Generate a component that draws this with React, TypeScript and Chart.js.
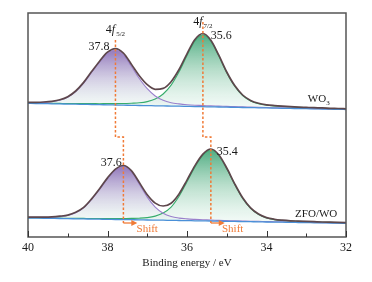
import React, { useEffect, useRef } from "react";
import { Chart, registerables } from "chart.js";
Chart.register(...registerables);

// Binding energy grid (eV)
const energies = [40.0, 39.8, 39.6, 39.4, 39.2, 39.0, 38.8, 38.6, 38.4, 38.2, 38.0, 37.8, 37.6, 37.4, 37.2, 37.0, 36.8, 36.6, 36.4, 36.2, 36.0, 35.8, 35.6, 35.4, 35.2, 35.0, 34.8, 34.6, 34.4, 34.2, 34.0, 33.8, 33.6, 33.4, 33.2, 33.0, 32.8, 32.6, 32.4, 32.2, 32.0];

// WO3 (upper spectrum, offset a.u.)
const wo3Background = [133.7, 133.5, 133.4, 133.2, 133.1, 132.9, 132.8, 132.6, 132.5, 132.3, 132.2, 132.0, 131.8, 131.7, 131.5, 131.4, 131.2, 131.1, 130.9, 130.8, 130.6, 130.4, 130.3, 130.1, 130.0, 129.8, 129.7, 129.5, 129.4, 129.2, 129.1, 128.9, 128.7, 128.6, 128.4, 128.3, 128.1, 128.0, 127.8, 127.7, 127.5];
const wo3F52 = [0.6, 0.8, 1.2, 2.0, 3.6, 6.8, 12.5, 21.2, 32.0, 42.5, 51.4, 55.0, 50.4, 39.0, 27.0, 16.9, 9.8, 5.6, 3.4, 2.3, 1.7, 1.4, 1.2, 1.0, 0.9, 0.8, 0.7, 0.6, 0.5, 0.5, 0.4, 0.4, 0.4, 0.3, 0.3, 0.3, 0.3, 0.3, 0.2, 0.2, 0.2];
const wo3F72 = [0.3, 0.4, 0.4, 0.5, 0.5, 0.6, 0.7, 0.8, 0.9, 1.0, 1.2, 1.4, 1.7, 2.1, 2.7, 4.0, 6.7, 11.9, 21.0, 34.4, 50.9, 65.7, 72.0, 65.7, 50.9, 34.4, 21.0, 11.9, 6.7, 4.0, 2.7, 2.1, 1.7, 1.4, 1.2, 1.0, 0.9, 0.8, 0.7, 0.6, 0.5];

// ZFO/WO (lower spectrum)
const zfoBackground = [19.0, 18.9, 18.7, 18.6, 18.5, 18.3, 18.2, 18.1, 17.9, 17.8, 17.7, 17.5, 17.4, 17.3, 17.2, 17.0, 16.9, 16.8, 16.6, 16.5, 16.4, 16.2, 16.1, 16.0, 15.8, 15.7, 15.6, 15.4, 15.3, 15.2, 15.0, 14.9, 14.8, 14.6, 14.5, 14.4, 14.2, 14.1, 14.0, 13.9, 13.7];
const zfoF52 = [0.6, 0.7, 0.9, 1.2, 1.9, 3.2, 6.0, 11.0, 19.6, 29.7, 40.6, 49.5, 53.0, 47.7, 35.7, 22.9, 13.0, 7.0, 3.9, 2.4, 1.7, 1.4, 1.1, 1.0, 0.8, 0.7, 0.6, 0.6, 0.5, 0.5, 0.4, 0.4, 0.4, 0.3, 0.3, 0.3, 0.3, 0.2, 0.2, 0.2, 0.2];
const zfoF72 = [0.2, 0.3, 0.3, 0.3, 0.4, 0.4, 0.5, 0.5, 0.6, 0.7, 0.8, 0.9, 1.1, 1.3, 1.6, 2.4, 4.0, 7.2, 13.3, 24.2, 38.8, 53.8, 65.7, 71.0, 65.7, 52.6, 37.0, 23.2, 13.3, 7.2, 4.0, 2.4, 1.6, 1.3, 1.1, 0.9, 0.8, 0.7, 0.6, 0.5, 0.5];

// Peak positions (eV)
const peaksWO3 = [37.8, 35.6];
const peaksZFO = [37.6, 35.4];
const peakLabelsWO3 = ["37.8", "35.6"];
const peakLabelsZFO = ["37.6", "35.4"];

// Axis
const xTicks = [40, 38, 36, 34, 32];
const xMinorTicks = [39, 37, 35, 33];
const xTitle = "Binding energy / eV";

const FONT = "'Liberation Serif', 'Times New Roman', serif";

export default function App() {
  const ref = useRef<HTMLCanvasElement>(null);

  useEffect(() => {
    const canvas = ref.current;
    if (!canvas) return;

    const pts = (vals: number[]) => energies.map((e, i) => ({ x: e, y: vals[i] }));
    const sum = (a: number[], b: number[]) => energies.map((e, i) => ({ x: e, y: a[i] + b[i] }));
    const env = (bg: number[], p: number[], g: number[]) => energies.map((e, i) => ({ x: e, y: bg[i] + p[i] + g[i] }));
    const argmax = (a: number[]) => a.indexOf(Math.max(...a));

    const gradFill = (bg: number[], comp: number[], stops: string[]) => (ctx: any) => {
      const chart = ctx.chart;
      const ys = chart.scales && chart.scales.y;
      if (!chart.chartArea || !ys) return stops[0];
      const k = argmax(comp);
      const yTop = ys.getPixelForValue(bg[k] + comp[k]);
      const yBot = ys.getPixelForValue(bg[k]);
      const g = chart.ctx.createLinearGradient(0, yTop, 0, yBot);
      g.addColorStop(0, stops[0]);
      g.addColorStop(0.5, stops[1]);
      g.addColorStop(1, stops[2]);
      return g;
    };
    const purpleStops = ["rgba(138,110,182,0.92)", "rgba(192,184,216,0.72)", "rgba(226,242,236,0.45)"];
    const greenStops = ["rgba(66,166,120,0.92)", "rgba(158,210,184,0.72)", "rgba(226,244,236,0.45)"];

    const curve = { pointRadius: 0, cubicInterpolationMode: "monotone" as const, tension: 0 };
    const ENV = "#5e474c";
    const PUR = "#9a80cc";
    const GRN = "#36ac6c";
    const BLU = "#4a90d8";
    const ORG = "#f07a36";

    // step shift guides (eV / a.u.)
    const guideTopY = [197, 215];
    const guideStepY = 100;
    const guideBottomY = 14;
    const arrowLen = 0.3;

    const datasets: any[] = [
      { label: "guide1", data: [{ x: peaksWO3[0], y: guideTopY[0] }, { x: peaksWO3[0], y: guideStepY }, { x: peaksZFO[0], y: guideStepY }, { x: peaksZFO[0], y: guideBottomY }], borderColor: ORG, borderWidth: 1.5, borderDash: [2.5, 2], pointRadius: 0, fill: false, order: 0 },
      { label: "guide2", data: [{ x: peaksWO3[1], y: guideTopY[1] }, { x: peaksWO3[1], y: guideStepY }, { x: peaksZFO[1], y: guideStepY }, { x: peaksZFO[1], y: guideBottomY }], borderColor: ORG, borderWidth: 1.5, borderDash: [2.5, 2], pointRadius: 0, fill: false, order: 0 },
      { label: "arrow1", data: [{ x: peaksZFO[0], y: guideBottomY }, { x: peaksZFO[0] - arrowLen, y: guideBottomY }], borderColor: ORG, borderWidth: 1.3, pointRadius: 0, fill: false, order: 0 },
      { label: "arrow2", data: [{ x: peaksZFO[1], y: guideBottomY }, { x: peaksZFO[1] - arrowLen, y: guideBottomY }], borderColor: ORG, borderWidth: 1.3, pointRadius: 0, fill: false, order: 0 },
      { label: "envWO3", data: env(wo3Background, wo3F52, wo3F72), borderColor: ENV, borderWidth: 1.7, fill: false, order: 1, ...curve },
      { label: "envZFO", data: env(zfoBackground, zfoF52, zfoF72), borderColor: ENV, borderWidth: 1.7, fill: false, order: 1, ...curve },
      { label: "bgWO3", data: pts(wo3Background), borderColor: BLU, borderWidth: 1.3, fill: false, order: 2, ...curve },
      { label: "bgZFO", data: pts(zfoBackground), borderColor: BLU, borderWidth: 1.3, fill: false, order: 2, ...curve },
      { label: "w52", data: sum(wo3Background, wo3F52), borderColor: PUR, borderWidth: 1.1, fill: 6, backgroundColor: gradFill(wo3Background, wo3F52, purpleStops), order: 3, ...curve },
      { label: "w72", data: sum(wo3Background, wo3F72), borderColor: GRN, borderWidth: 1.1, fill: 6, backgroundColor: gradFill(wo3Background, wo3F72, greenStops), order: 3, ...curve },
      { label: "z52", data: sum(zfoBackground, zfoF52), borderColor: PUR, borderWidth: 1.1, fill: 7, backgroundColor: gradFill(zfoBackground, zfoF52, purpleStops), order: 3, ...curve },
      { label: "z72", data: sum(zfoBackground, zfoF72), borderColor: GRN, borderWidth: 1.1, fill: 7, backgroundColor: gradFill(zfoBackground, zfoF72, greenStops), order: 3, ...curve },
    ];

    const decor = {
      id: "decor",
      afterDatasetsDraw(chart: any) {
        const { ctx, chartArea: a, scales } = chart;
        const xs = scales.x, ys = scales.y;
        const X = (v: number) => xs.getPixelForValue(v);
        const Y = (v: number) => ys.getPixelForValue(v);
        ctx.save();
        // arrow heads
        ctx.fillStyle = ORG;
        [peaksZFO[0], peaksZFO[1]].forEach((p) => {
          const tx = X(p - arrowLen) + 2, ty = Y(guideBottomY);
          ctx.beginPath();
          ctx.moveTo(tx, ty);
          ctx.lineTo(tx - 6, ty - 3);
          ctx.lineTo(tx - 6, ty + 3);
          ctx.closePath();
          ctx.fill();
        });
        // frame
        ctx.strokeStyle = "#555";
        ctx.lineWidth = 1.5;
        ctx.strokeRect(a.left, a.top, a.right - a.left, a.bottom - a.top);
        // inward ticks
        ctx.strokeStyle = "#333";
        ctx.lineWidth = 1;
        xTicks.forEach((t) => { const x = Math.round(X(t)) + 0.5; ctx.beginPath(); ctx.moveTo(x, a.bottom); ctx.lineTo(x, a.bottom - 6); ctx.stroke(); });
        xMinorTicks.forEach((t) => { const x = Math.round(X(t)) + 0.5; ctx.beginPath(); ctx.moveTo(x, a.bottom); ctx.lineTo(x, a.bottom - 3.5); ctx.stroke(); });

        // texts
        ctx.fillStyle = "#1a1a1a";
        ctx.textBaseline = "alphabetic";
        const orbital = (cx: number, by: number, sub: string) => {
          ctx.font = `12px ${FONT}`;
          const w4 = ctx.measureText("4").width;
          ctx.font = `italic 12px ${FONT}`;
          const wf = ctx.measureText("f").width;
          ctx.font = `7px ${FONT}`;
          const ws = ctx.measureText(sub).width;
          let x = cx - (w4 + wf + ws + 1) / 2;
          ctx.textAlign = "left";
          ctx.font = `12px ${FONT}`; ctx.fillText("4", x, by); x += w4;
          ctx.font = `italic 12px ${FONT}`; ctx.fillText("f", x, by); x += wf + 1;
          ctx.font = `7px ${FONT}`; ctx.fillText(sub, x, by + 3);
        };
        orbital(X(peaksWO3[0]), Y(204), "5/2");
        orbital(X(peaksWO3[1]), Y(212), "7/2");

        ctx.font = `12px ${FONT}`;
        ctx.textAlign = "right";
        ctx.fillText(peakLabelsWO3[0], X(37.95), Y(187));
        ctx.fillText(peakLabelsZFO[0], X(37.64), Y(71));
        ctx.textAlign = "left";
        ctx.fillText(peakLabelsWO3[1], X(35.4), Y(198));
        ctx.fillText(peakLabelsZFO[1], X(35.25), Y(82));

        // sample names
        ctx.font = `11px ${FONT}`;
        ctx.fillText("WO", X(32.96), Y(135));
        const wWO = ctx.measureText("WO").width;
        ctx.font = `7px ${FONT}`;
        ctx.fillText("3", X(32.96) + wWO, Y(135) + 3);
        ctx.font = `11px ${FONT}`;
        ctx.fillText("ZFO/WO", X(33.28), Y(20.5));

        // shift labels
        ctx.fillStyle = ORG;
        ctx.font = `11px ${FONT}`;
        ctx.fillText("Shift", X(37.27), Y(5.5));
        ctx.fillText("Shift", X(35.12), Y(5.5));
        ctx.restore();
      },
    };

    const chart = new Chart(canvas, {
      type: "line",
      data: { datasets },
      options: {
        animation: false,
        responsive: false,
        devicePixelRatio: 1,
        layout: { padding: { left: 28, right: 26, top: 13, bottom: 0 } },
        plugins: { legend: { display: false }, tooltip: { enabled: false }, filler: { drawTime: "beforeDatasetsDraw" } as any },
        scales: {
          x: {
            type: "linear",
            reverse: true,
            min: 32,
            max: 40,
            afterBuildTicks: (s: any) => { s.ticks = xTicks.map((v) => ({ value: v })); },
            afterFit: (s: any) => { s.height = 45; },
            ticks: { color: "#1a1a1a", font: { family: FONT, size: 12 }, padding: 4, maxRotation: 0 },
            grid: { display: false, drawTicks: false },
            border: { display: false },
            title: { display: true, text: xTitle, color: "#1a1a1a", font: { family: FONT, size: 11 }, padding: { top: 0, bottom: 12 } },
          },
          y: { display: false, min: 0, max: 224 },
        },
      },
      plugins: [decor],
    });
    return () => chart.destroy();
  }, []);

  return (
    <canvas
      ref={ref}
      width={372}
      height={282}
      style={{ position: "absolute", left: 0, top: 0, width: 372, height: 282, display: "block" }}
    />
  );
}
